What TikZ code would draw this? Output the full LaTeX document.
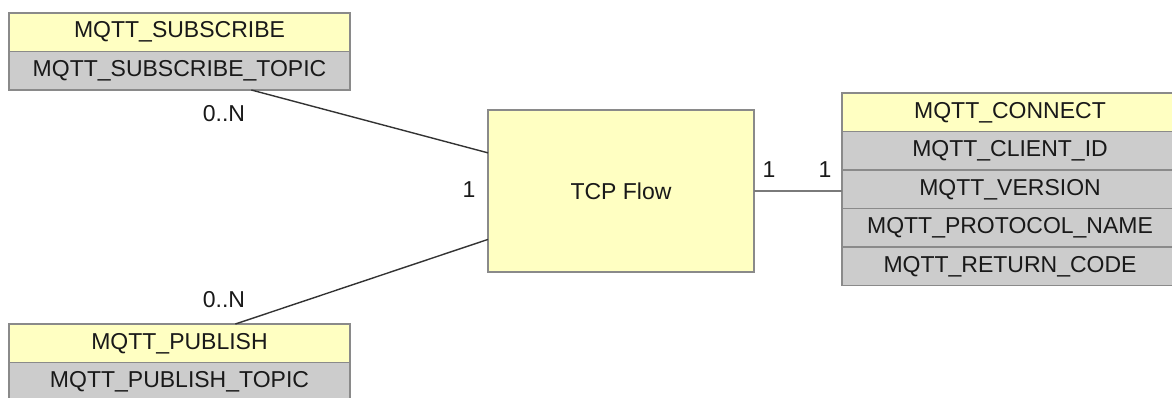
\documentclass[tikz,border=0pt]{standalone}
\usepackage{fontspec}
\setmainfont{Liberation Sans}
\usepackage{xcolor}
\usepackage{tikz}
\usetikzlibrary{positioning}

\definecolor{headyellow}{HTML}{FFFFC2}
\definecolor{rowgray}{HTML}{CCCCCC}
\definecolor{edgegray}{HTML}{8A8A8A}
\definecolor{linkgray}{HTML}{7A7A7A}

\tikzset{
    tbl/.style={draw=edgegray, line width=0.6pt, minimum height=19.25pt,
        inner sep=0pt, outer sep=0pt, text=black!90,
        font=\fontsize{11.5}{13}\selectfont},
    head/.style={tbl, fill=headyellow},
    attr/.style={tbl, fill=rowgray},
    card/.style={inner sep=0pt, text=black!90, font=\fontsize{11.5}{13}\selectfont},
    link/.style={draw=black!80, line width=0.7pt},
    onelink/.style={draw=linkgray, line width=1.2pt}
}

\begin{document}
\begin{tikzpicture}[x=0.5pt, y=-0.5pt]
    \useasboundingbox (0,0) rectangle (1172,397);
    \clip (0,0) rectangle (1172,397);
    % subscribe table
    \node[head, minimum width=170.5pt, anchor=north west] (subhead) at (9,13) {MQTT\_SUBSCRIBE};
    \node[attr, minimum width=170.5pt, below=0pt of subhead] (subtopic) {MQTT\_SUBSCRIBE\_TOPIC};
    % publish table
    \node[head, minimum width=170.5pt, anchor=north west] (pubhead) at (9,324) {MQTT\_PUBLISH};
    \node[attr, minimum width=170.5pt, below=0pt of pubhead] (pubtopic) {MQTT\_PUBLISH\_TOPIC};
    % the flow
    \node[head, minimum width=133pt, minimum height=81pt, anchor=north west] (flow) at (488,110) {TCP Flow};
    % connect table
    \node[head, minimum width=168pt, anchor=north west] (conhead) at (842,93) {MQTT\_CONNECT};
    \node[attr, minimum width=168pt, below=0pt of conhead] (conclient) {MQTT\_CLIENT\_ID};
    \node[attr, minimum width=168pt, below=0pt of conclient] (conversion) {MQTT\_VERSION};
    \node[attr, minimum width=168pt, below=0pt of conversion] (conproto) {MQTT\_PROTOCOL\_NAME};
    \node[attr, minimum width=168pt, below=0pt of conproto] (conreturn) {MQTT\_RETURN\_CODE};

    % relations
    \draw[link] (subtopic.-15) -- (flow.164);
    \draw[link] (pubhead.19) -- (flow.200);
    \draw[onelink] (flow.east) -- (flow.east -| conversion.west);

    % cardinalities
    \node[card] (subcard) at (224,114) {0..N};
    \node[card] (pubcard) at (224,300) {0..N};
    \node[card] (flowcardl) at (469,190) {1};
    \node[card] (flowcardr) at (769,170) {1};
    \node[card] (concard) at (825,170) {1};
\end{tikzpicture}
\end{document}
